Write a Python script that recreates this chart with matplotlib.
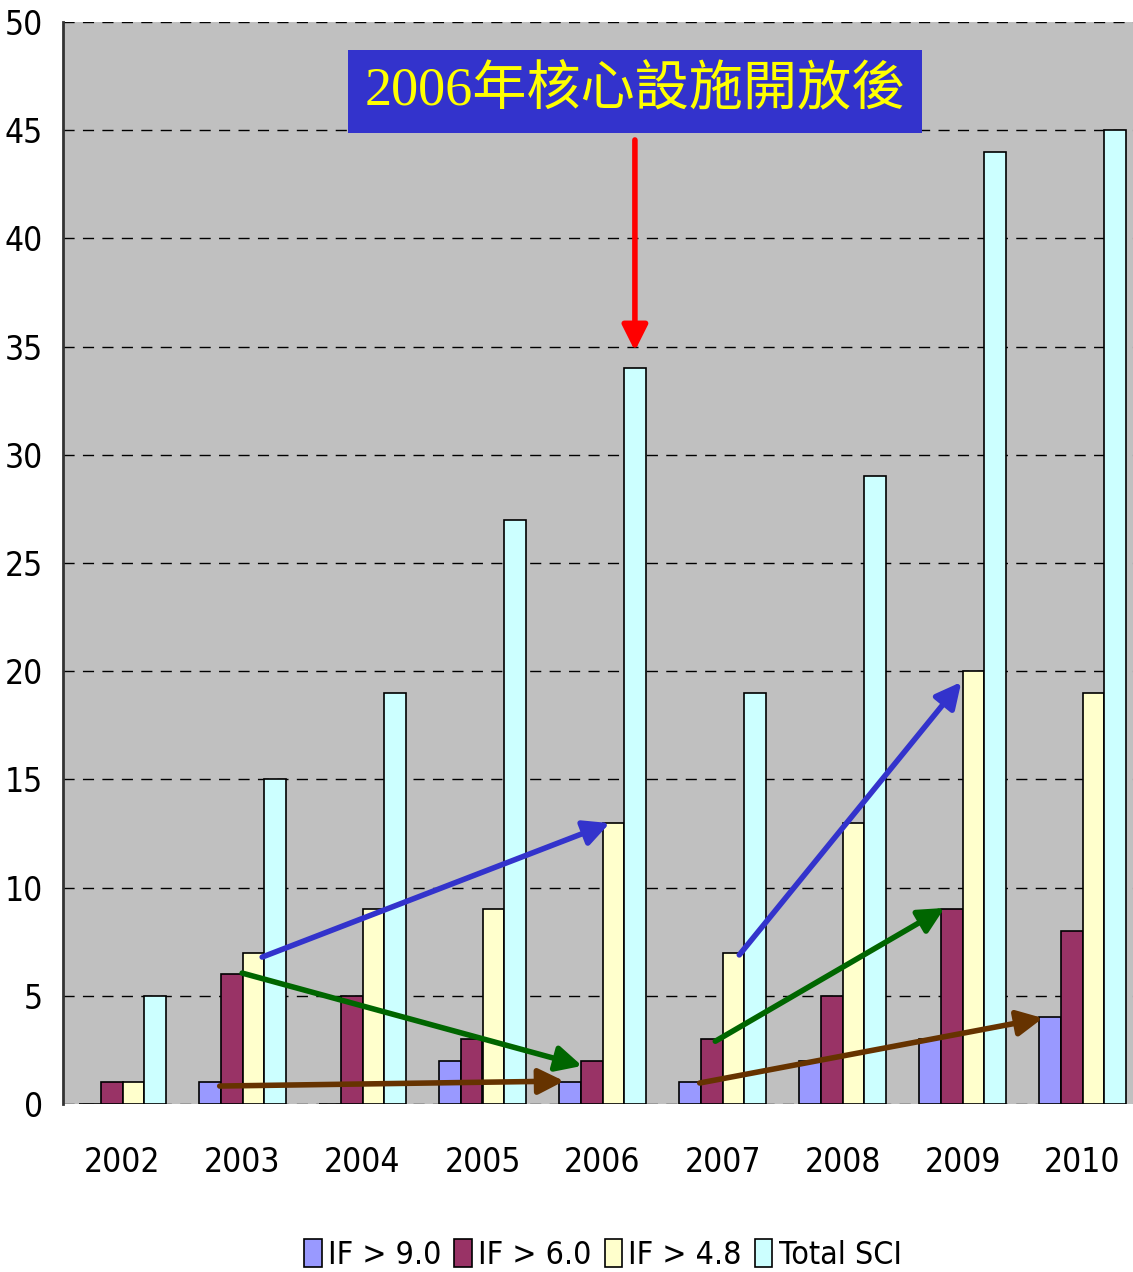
import matplotlib
matplotlib.use("Agg")
import matplotlib.pyplot as plt
import numpy as np

years = ["2002", "2003", "2004", "2005", "2006", "2007", "2008", "2009", "2010"]
series_names = ["IF > 9.0", "IF > 6.0", "IF > 4.8", "Total SCI"]
if_9 = [0, 1, 0, 2, 1, 1, 2, 3, 4]
if_6 = [1, 6, 5, 3, 2, 3, 5, 9, 8]
if_48 = [1, 7, 9, 9, 13, 7, 13, 20, 19]
total_sci = [5, 15, 19, 27, 34, 19, 29, 44, 45]
yticks = [0, 5, 10, 15, 20, 25, 30, 35, 40, 45, 50]
title_text = "2006年核心設施開放後"

colors = ["#9999FF", "#993366", "#FFFFCC", "#CCFFFF"]
narrow = ["DejaVu Sans"]

fig = plt.figure(figsize=(11.33, 12.72), dpi=100)
ax = fig.add_axes([62.5 / 1133, 1 - 1104 / 1272, 1 - 62.5 / 1133, (1104 - 22) / 1272])
ax.set_facecolor("#C0C0C0")

x = np.arange(len(years))
w = 0.182
all_series = [if_9, if_6, if_48, total_sci]
handles = []
for i, (vals, c) in enumerate(zip(all_series, colors)):
    b = ax.bar(x + (i - 1.5) * w, vals, width=w, color=c, edgecolor="black",
               linewidth=1.2, zorder=3, label=series_names[i])
    handles.append(b)

ax.set_ylim(0, 50)
ax.set_xlim(-0.5, (1133 - 62.5) / 120 - 0.5)
ax.set_yticks(yticks)
ax.set_yticklabels([str(t) for t in yticks], family=narrow, stretch="condensed", fontsize=24)
ax.set_xticks(x)
ax.set_xticklabels(years, family=narrow, stretch="condensed", fontsize=24)
ax.tick_params(axis="both", length=0)
ax.tick_params(axis="x", pad=30)
ax.tick_params(axis="y", pad=14)
ax.yaxis.grid(True, color="black", linestyle=(0, (8, 6)), linewidth=1, zorder=1)
ax.set_axisbelow(True)
for s in ["top", "right", "bottom"]:
    ax.spines[s].set_visible(False)
ax.spines["left"].set_color("#333333")
ax.spines["left"].set_linewidth(2)

def arrow(x0, y0, x1, y1, color):
    ax.annotate("", xy=(x1, y1), xytext=(x0, y0),
                arrowprops=dict(arrowstyle="-|>,head_length=0.7,head_width=0.35",
                                color=color, lw=4, mutation_scale=22,
                                shrinkA=0, shrinkB=0), zorder=5)

arrow(1.164, 6.79, 4.06, 12.98, "#3333CC")
arrow(0.997, 6.05, 3.83, 1.76, "#006600")
arrow(0.81, 0.83, 3.68, 1.06, "#663300")
arrow(5.14, 6.89, 6.99, 19.5, "#3333CC")
arrow(4.94, 2.9, 6.85, 9.06, "#006600")
arrow(4.81, 0.97, 7.67, 3.97, "#663300")
arrow(4.27, 44.55, 4.27, 34.8, "#FF0000")

ax.text(4.27, 46.8, title_text, ha="center", va="center", color="#FFFF00",
        fontsize=39, family=["Liberation Serif", "Noto Sans CJK TC"],
        bbox=dict(boxstyle="square,pad=0.3", facecolor="#3333CC", edgecolor="none"),
        zorder=6)

leg = fig.legend(handles=handles, labels=series_names, loc="center",
                 bbox_to_anchor=(603 / 1133, 1 - 1255 / 1272), ncol=4, frameon=False,
                 prop={"family": narrow, "stretch": "condensed", "size": 23},
                 handlelength=0.55, handleheight=1.0,
                 handletextpad=0.2, columnspacing=0.4)

fig.savefig("out.png", dpi=100)
